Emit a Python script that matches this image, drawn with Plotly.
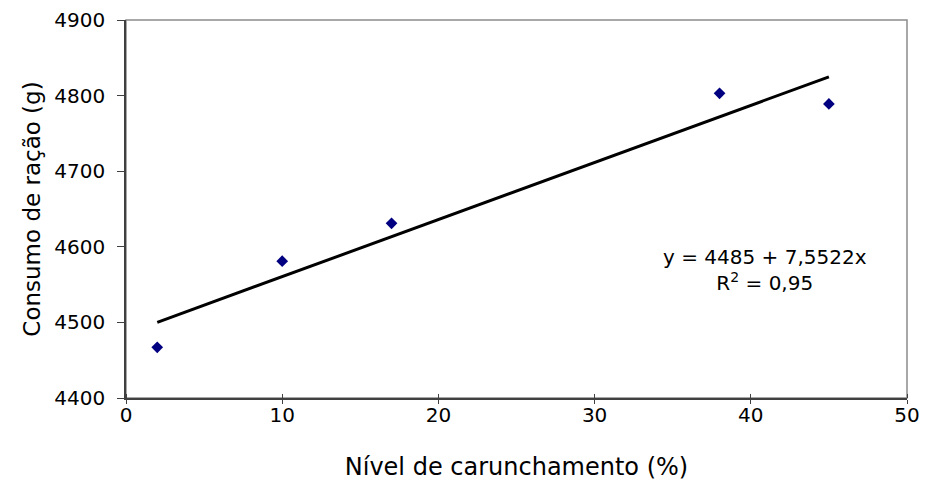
import plotly.graph_objects as go

# Data
nivel = [2, 10, 17, 38, 45]
consumo = [4467, 4581, 4631, 4803, 4789]
intercept = 4485
slope = 7.5522
r2_text = "0,95"
x_ticks = [0, 10, 20, 30, 40, 50]
y_ticks = [4400, 4500, 4600, 4700, 4800, 4900]
x_title = "Nível de carunchamento (%)"
y_title = "Consumo de ração (g)"

FONT = "DejaVu Sans"

trend_x = [min(nivel), max(nivel)]
trend_y = [intercept + slope * v for v in trend_x]

fig = go.Figure()
fig.add_trace(go.Scatter(
    x=trend_x, y=trend_y, mode="lines",
    line=dict(color="black", width=3), hoverinfo="skip", showlegend=False))
fig.add_trace(go.Scatter(
    x=nivel, y=consumo, mode="markers",
    marker=dict(symbol="diamond", size=9, color="#000080", line=dict(width=0)),
    showlegend=False))

fig.update_layout(
    width=925, height=484,
    margin=dict(l=126, r=18, t=20, b=86),
    paper_bgcolor="white", plot_bgcolor="white",
    font=dict(family=FONT, size=20, color="black"),
    xaxis=dict(range=[0, 50], tickvals=x_ticks, ticks="outside", ticklen=4,
               tickcolor="#404040", tickwidth=1, showgrid=False, zeroline=False,
               showline=True, linecolor="#404040", linewidth=1.5, automargin=False,
               minor=dict(tickvals=x_ticks, ticks="inside", ticklen=4,
                          tickcolor="#404040", tickwidth=1, showgrid=False),
               tickfont=dict(family=FONT, size=20, color="black"), ticklabelstandoff=-6,
               title=dict(text=x_title, font=dict(family=FONT, size=24, color="black"),
                          standoff=32)),
    yaxis=dict(range=[4400, 4900], tickvals=y_ticks, ticks="outside", ticklen=7,
               tickcolor="#404040", tickwidth=1, showgrid=False, zeroline=False,
               showline=True, linecolor="#404040", linewidth=1.5, automargin=False,
               tickfont=dict(family=FONT, size=20, color="black"), ticklabelstandoff=8,
               title=dict(text=y_title, font=dict(family=FONT, size=23, color="black"),
                          standoff=7)),
    shapes=[dict(type="rect", xref="paper", yref="paper", x0=0, x1=1, y0=0, y1=1,
                 line=dict(color="#8c8c8c", width=1.5), layer="below")],
    annotations=[
        dict(text=f"y = {intercept} + {str(slope).replace('.', ',')}x<br>R<sup>2</sup> = {r2_text}",
             xref="paper", yref="paper", x=0.818, y=0.3386,
             xanchor="center", yanchor="middle", align="center", showarrow=False,
             font=dict(family=FONT, size=20, color="black")),
    ],
)

fig.write_html("out.html")
